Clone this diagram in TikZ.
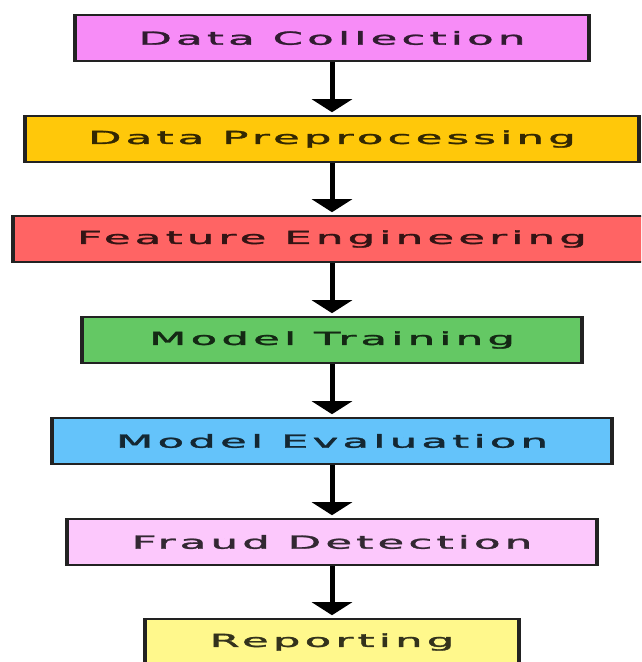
\documentclass[tikz,border=0pt]{standalone}
\usepackage{fontspec}
\usepackage{tikz}
\usetikzlibrary{arrows.meta, positioning}
\newfontfamily\stagefont[LetterSpace=10, FakeBold=1.5]{DejaVu Sans}
\newcommand{\widetext}[1]{\scalebox{2.4}[1]{#1}}
\definecolor{collectpink}{HTML}{F78CF7}
\definecolor{prepgold}{HTML}{FFC80A}
\definecolor{featred}{HTML}{FF6464}
\definecolor{traingreen}{HTML}{64C864}
\definecolor{evalblue}{HTML}{64C3FA}
\definecolor{fraudpink}{HTML}{FCC8FC}
\definecolor{reportyellow}{HTML}{FFF88C}
\definecolor{edgedark}{HTML}{222222}

\begin{document}
\begin{tikzpicture}[x=1pt, y=-1pt,
    stage/.style={rectangle, draw=edgedark, line width=1.6pt, minimum height=46pt, inner sep=0pt, font=\stagefont\fontsize{18}{20}\selectfont},
    flow/.style={-{Triangle[width=40pt, length=13pt]}, line width=5pt, black, shorten >=3pt}]
    \clip (0,0) rectangle (641,662);
    \node[stage, fill=collectpink, text=collectpink!20!black, minimum width=512pt] (collect) at (332,38) {\widetext{Data Collection}};
    \node[stage, fill=prepgold, text=prepgold!20!black, minimum width=612pt] (prep) at (332,139) {\widetext{Data Preprocessing}};
    \node[stage, fill=featred, text=featred!20!black, minimum width=636pt] (feat) at (332,239) {\widetext{Feature Engineering}};
    \node[stage, fill=traingreen, text=traingreen!20!black, minimum width=499pt] (train) at (332,340) {\widetext{Model Training}};
    \node[stage, fill=evalblue, text=evalblue!20!black, minimum width=559pt] (eval) at (332,441) {\widetext{Model Evaluation}};
    \node[stage, fill=fraudpink, text=fraudpink!20!black, minimum width=529pt] (fraud) at (332,542) {\widetext{Fraud Detection}};
    \node[stage, fill=reportyellow, text=reportyellow!20!black, minimum width=372pt] (report) at (332,642) {\widetext{Reporting}};
    \draw[flow] (collect) -- (prep);
    \draw[flow] (prep) -- (feat);
    \draw[flow] (feat) -- (train);
    \draw[flow] (train) -- (eval);
    \draw[flow] (eval) -- (fraud);
    \draw[flow] (fraud) -- (report);
    % thick left and right edges
    \foreach \n in {collect, prep, feat, train, eval, fraud, report}
        \draw[edgedark, line width=4pt] (\n.north west) -- (\n.south west) (\n.north east) -- (\n.south east);
\end{tikzpicture}
\end{document}
